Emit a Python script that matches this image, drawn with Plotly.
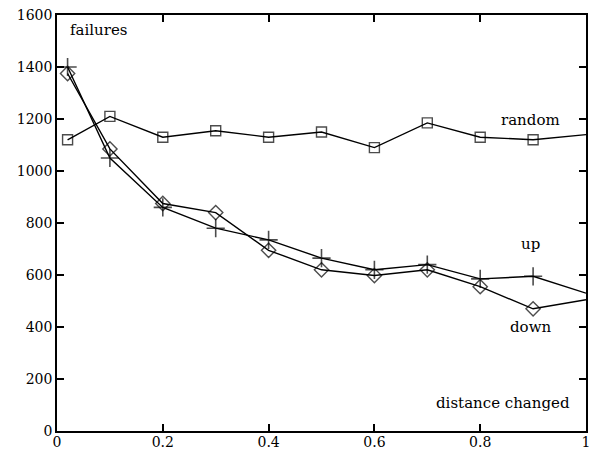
import plotly.graph_objects as go

x = [0.02, 0.1, 0.2, 0.3, 0.4, 0.5, 0.6, 0.7, 0.8, 0.9, 1.0]
random_vals = [1120, 1210, 1130, 1155, 1130, 1150, 1090, 1185, 1130, 1120, 1140]
up_vals = [1400, 1050, 860, 780, 735, 665, 620, 640, 585, 595, 530]
down_vals = [1375, 1085, 875, 840, 695, 620, 598, 620, 555, 470, 505]

xticks = [0, 0.2, 0.4, 0.6, 0.8, 1]
xtick_labels = ["0", "0.2", "0.4", "0.6", "0.8", "1"]
yticks = [0, 200, 400, 600, 800, 1000, 1200, 1400, 1600]

FONT = "DejaVu Serif, Liberation Serif, serif"
sizes = lambda s: [s] * (len(x) - 1) + [0]

fig = go.Figure()
fig.add_trace(go.Scatter(x=x, y=random_vals, mode="lines+markers",
                         line=dict(color="black", width=1.4),
                         marker=dict(symbol="square-open", size=sizes(10), color="black",
                                     line=dict(width=1.4))))
fig.add_trace(go.Scatter(x=x, y=up_vals, mode="lines+markers",
                         line=dict(color="black", width=1.4),
                         marker=dict(symbol="cross-thin-open", size=sizes(13), color="black",
                                     line=dict(width=1.6, color="black"))))
fig.add_trace(go.Scatter(x=x, y=down_vals, mode="lines+markers",
                         line=dict(color="black", width=1.4),
                         marker=dict(symbol="diamond-open", size=sizes(11), color="black",
                                     line=dict(width=1.4))))

annots = [
    dict(x=0.021, y=1543, text="failures", xanchor="left"),
    dict(x=0.955, y=1197, text="random", xanchor="right"),
    dict(x=0.917, y=718, text="up", xanchor="right"),
    dict(x=0.938, y=399, text="down", xanchor="right"),
    dict(x=0.974, y=107, text="distance changed", xanchor="right"),
]
for a in annots:
    fig.add_annotation(x=a["x"], y=a["y"], text=a["text"], xanchor=a["xanchor"],
                       yanchor="middle", showarrow=False,
                       font=dict(family=FONT, size=15, color="black"))

axis_common = dict(showgrid=False, zeroline=False, showline=True, linecolor="black",
                   linewidth=1.5, mirror="allticks", ticks="inside", ticklen=7,
                   tickcolor="black", tickwidth=1.5, automargin=False,
                   layer="above traces",
                   tickfont=dict(family=FONT, size=14, color="black"))
fig.update_xaxes(range=[0, 1], tickmode="array", tickvals=xticks, ticktext=xtick_labels,
                 ticklabelstandoff=-3, **axis_common)
fig.update_yaxes(range=[0, 1600], tickmode="array", tickvals=yticks, **axis_common)

fig.update_layout(width=592, height=451, showlegend=False,
                  margin=dict(l=57, r=6, t=15, b=20, autoexpand=False),
                  paper_bgcolor="white", plot_bgcolor="white",
                  font=dict(family=FONT, color="black"))
fig.write_html("out.html", config={"displayModeBar": False},
               post_script="document.body.style.margin='0';")
